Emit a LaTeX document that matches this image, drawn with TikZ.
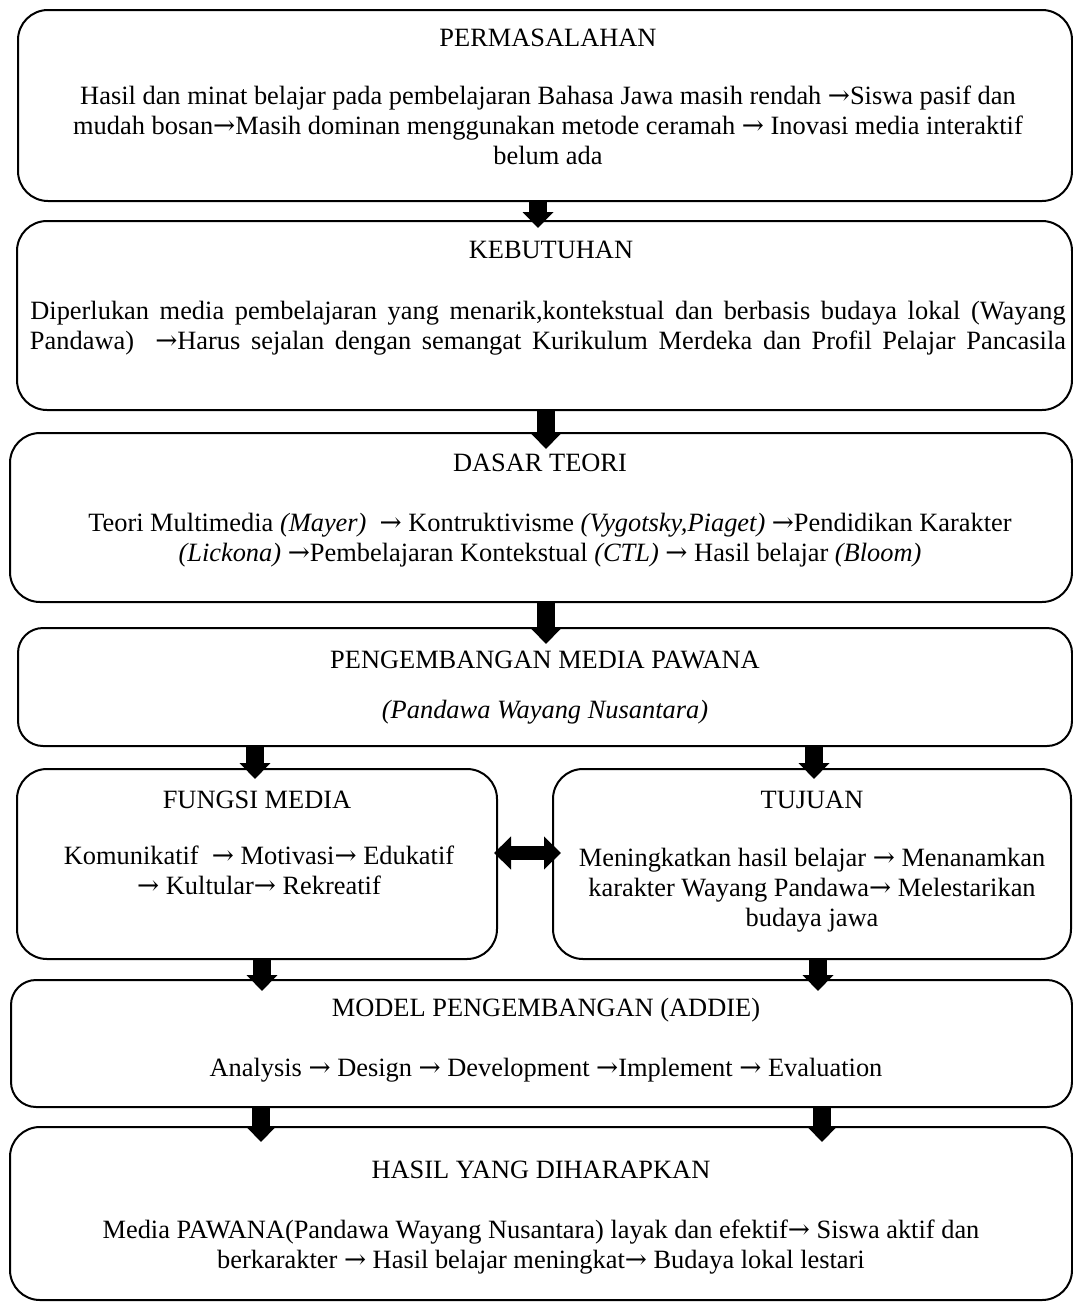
\documentclass[tikz,border=0pt]{standalone}
\usepackage{fontspec}
\setmainfont{Liberation Serif}
\newfontfamily\arrfont{DejaVu Serif}
\usetikzlibrary{arrows.meta,calc}
\newcommand\myarr{{\arrfont →}}
\begin{document}
\begin{tikzpicture}[x=1pt,y=-1pt,
  box/.style={draw,line width=2pt,rounded corners=30pt,inner sep=0pt,fill=white},
  txt/.style={inner sep=0pt,align=center,font=\fontsize{26.4}{30}\selectfont},
  blk/.style={line width=18pt,-{Triangle[width=30pt,length=16pt]}},
  dblk/.style={line width=14pt,{Triangle[width=32pt,length=17pt]}-{Triangle[width=32pt,length=17pt]}}]
\useasboundingbox (0,0) rectangle (1073,1309);
\fill[white] (0,0) rectangle (1073,1309);
% boxes
\node[box,minimum width=1054pt,minimum height=191pt] (b1) at (545,105.5) {};
\node[box,minimum width=1055pt,minimum height=189pt] (b2) at (544.5,315.5) {};
\node[box,minimum width=1062pt,minimum height=169pt] (b3) at (541,517.5) {};
\node[box,minimum width=1054pt,minimum height=118pt,rounded corners=25pt] (b4) at (545,687) {};
\node[box,minimum width=480pt,minimum height=190pt] (b5) at (257,864) {};
\node[box,minimum width=518pt,minimum height=190pt] (b6) at (812,864) {};
\node[box,minimum width=1061pt,minimum height=127pt,rounded corners=25pt] (b7) at (541.5,1043.5) {};
\node[box,minimum width=1062pt,minimum height=173pt] (b8) at (541,1213.5) {};
% texts
\node[txt] (t1) at (548,38) {PERMASALAHAN};
\node[txt] (s1) at (548,125) {Hasil dan minat belajar pada pembelajaran Bahasa Jawa masih rendah \myarr Siswa pasif dan\\mudah bosan\myarr Masih dominan menggunakan metode ceramah \myarr{} Inovasi media interaktif\\belum ada};
\node[txt] (t2) at (551,250) {KEBUTUHAN};
\node[txt,font={\fontsize{26.4}{30}\selectfont\spaceskip=10.6pt\relax}] (s2) at (548,328) {Diperlukan media pembelajaran yang menarik,kontekstual dan berbasis budaya lokal (Wayang\\Pandawa)\ \ \myarr Harus sejalan dengan semangat Kurikulum Merdeka dan Profil Pelajar Pancasila};
\node[txt] (t3) at (540,463) {DASAR TEORI};
\node[txt] (s3) at (550,540) {Teori Multimedia \textit{(Mayer)}\ \ \myarr{} Kontruktivisme \textit{(Vygotsky,Piaget)} \myarr Pendidikan Karakter\\\textit{(Lickona)} \myarr Pembelajaran Kontekstual \textit{(CTL)} \myarr{} Hasil belajar \textit{(Bloom)}};
\node[txt] (t4) at (545,660) {PENGEMBANGAN MEDIA PAWANA};
\node[txt] (s4) at (545,712) {\textit{(Pandawa Wayang Nusantara)}};
\node[txt] (t5) at (257,800) {FUNGSI MEDIA};
\node[txt] (s5) at (259,870) {Komunikatif\ \ \myarr{} Motivasi\myarr{} Edukatif\\\myarr{} Kultular\myarr{} Rekreatif};
\node[txt] (t6) at (812,800) {TUJUAN};
\node[txt] (s6) at (812,890) {Meningkatkan hasil belajar \myarr{} Menanamkan\\karakter Wayang Pandawa\myarr{} Melestarikan\\budaya jawa};
\node[txt] (t7) at (546,1010) {MODEL PENGEMBANGAN (ADDIE)};
\node[txt] (s7) at (546,1070) {Analysis \myarr{} Design \myarr{} Development \myarr Implement \myarr{} Evaluation};
\node[txt] (t8) at (541,1170) {HASIL YANG DIHARAPKAN};
\node[txt] (s8) at (541,1247) {Media PAWANA(Pandawa Wayang Nusantara) layak dan efektif\myarr{} Siswa aktif dan\\berkarakter \myarr{} Hasil belajar meningkat\myarr{} Budaya lokal lestari};
% arrows
\draw[blk] (b1.south -| 538,0) -- ($(b2.north -| 538,0)+(0,8)$);
\draw[blk] (b2.south -| 546,0) -- ($(b3.north -| 546,0)+(0,17)$);
\draw[blk] (b3.south -| 546,0) -- ($(b4.north -| 546,0)+(0,17)$);
\draw[blk] (b4.south -| 255,0) -- ($(b5.north -| 255,0)+(0,11)$);
\draw[blk] (b4.south -| 814,0) -- ($(b6.north -| 814,0)+(0,11)$);
\draw[blk] (b5.south -| 262,0) -- ($(b7.north -| 262,0)+(0,12)$);
\draw[blk] (b6.south -| 818,0) -- ($(b7.north -| 818,0)+(0,12)$);
\draw[blk] (b7.south -| 261,0) -- ($(b8.north -| 261,0)+(0,16)$);
\draw[blk] (b7.south -| 822,0) -- ($(b8.north -| 822,0)+(0,16)$);
\draw[dblk] ($(b5.east)+(-4,-11)$) -- ($(b6.west)+(9,-11)$);
\end{tikzpicture}
\end{document}
